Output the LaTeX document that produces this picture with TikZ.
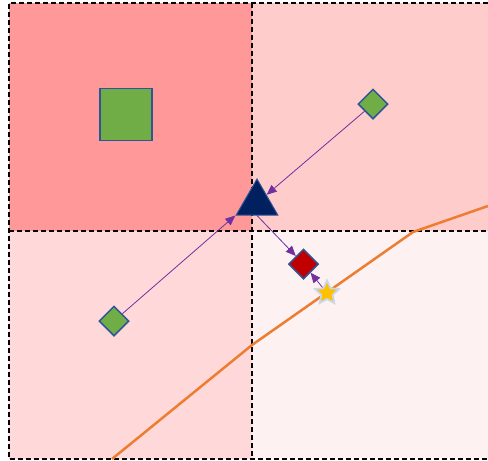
\documentclass[tikz,border=0pt]{standalone}
\usepackage{tikz}
\usetikzlibrary{arrows.meta,shapes.geometric}
\definecolor{bfent}{RGB}{255,153,153}
\definecolor{jfent}{RGB}{255,204,204}
\definecolor{blent}{RGB}{255,217,217}
\definecolor{jlent}{RGB}{253,241,241}
\definecolor{zold}{RGB}{112,173,71}
\definecolor{keret}{RGB}{47,85,151}
\definecolor{sotetkek}{RGB}{0,32,96}
\definecolor{piros}{RGB}{192,0,0}
\definecolor{arany}{RGB}{255,192,0}
\definecolor{halvany}{RGB}{200,215,235}
\definecolor{lila}{RGB}{112,48,160}
\definecolor{narancs}{RGB}{237,125,49}
\tikzset{
  negyzet/.style={draw=keret,line width=1.5pt,fill=zold,minimum size=52pt,inner sep=0pt},
  rombusz/.style={diamond,draw=keret,line width=1.5pt,fill=zold,minimum size=30pt,inner sep=0pt},
  harom/.style={regular polygon,regular polygon sides=3,draw=keret,line width=1pt,fill=sotetkek,
                minimum size=48pt,inner sep=0pt},
  csillag/.style={star,star points=5,star point ratio=2.1,fill=arany,draw=halvany,line width=1.8pt,
                  minimum size=25pt,inner sep=0pt},
  racs/.style={line width=1.2pt,dash pattern=on 5pt off 3pt},
  lnyil/.style={draw=lila,line width=0.8pt,-{Triangle[length=10pt,width=8.5pt]}},
  hatar/.style={narancs,line width=2.5pt},
}
\begin{document}
\begin{tikzpicture}[x=1pt,y=-1pt]
  \useasboundingbox (0,0) rectangle (488,461);
  % negyedek
  \fill[bfent] (9,3) rectangle (252,231);
  \fill[jfent] (252,3) rectangle (488,231);
  \fill[blent] (9,231) rectangle (252,459);
  \fill[jlent] (252,231) rectangle (488,459);
  \draw[racs] (488,3) -- (9,3) -- (9,459) -- (488,459);
  \draw[racs] (252,3) -- (252,459);
  \draw[racs] (9,231) -- (488,231);
  % hatarvonal
  \draw[hatar] (112,459) -- (252,345) -- (413,232) -- (488,206);
  % alakzatok
  \node[negyzet] (sq) at (126,114.5) {};
  \node[rombusz] (dfel) at (373,104) {};
  \node[rombusz] (dle) at (114,321) {};
  \node[harom] (tri) at (257,203) {};
  \node[rombusz,fill=piros] (dpiros) at (303.5,264) {};
  \node[csillag] (cs) at (327,293) {};
  % nyilak
  \draw[lnyil] (dfel) -- (tri);
  \draw[lnyil] (dle) -- (tri.corner 2);
  \draw[lnyil] (tri.side 2) -- (dpiros);
  \draw[lnyil] (cs) -- (dpiros);
\end{tikzpicture}
\end{document}
